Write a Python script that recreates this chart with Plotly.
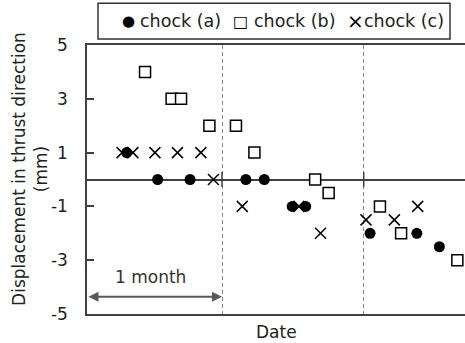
import plotly.graph_objects as go

# x values: days from start of observation window
a_x = [8.8, 15.7, 22.9, 35.3, 39.4, 45.6, 48.6, 62.9, 73.3, 78.3]
a_y = [1, 0, 0, 0, 0, -1, -1, -2, -2, -2.5]

b_x = [12.9, 18.8, 20.9, 27.2, 33.1, 37.2, 50.7, 53.7, 65.1, 69.8, 82.3]
b_y = [4, 3, 3, 2, 2, 1, 0, -0.5, -1, -2, -3]

c_x = [7.8, 10.2, 15.1, 20.1, 25.3, 28.1, 34.5, 47.1, 51.9, 62.0, 68.3, 73.5]
c_y = [1, 1, 1, 1, 1, 0, -1, -1, -2, -1.5, -1.5, -1]

series_names = ["chock (a)", "chock (b)", "chock (c)"]
legend_glyphs = ["●", "□", "×"]
month_marks = [30, 61.5]
y_ticks = [-5, -3, -1, 1, 3, 5]
x_range = [0, 84]
y_range = [-5, 5]

FONT = "DejaVu Sans"
DARK = "#404040"
TXT = "#222"

fig = go.Figure()
fig.add_trace(go.Scatter(x=c_x, y=c_y, mode="markers", name=series_names[2], showlegend=False,
                         marker=dict(symbol="x-thin", size=11, color="black",
                                     line=dict(width=1.5, color="black"))))
fig.add_trace(go.Scatter(x=b_x, y=b_y, mode="markers", name=series_names[1], showlegend=False,
                         marker=dict(symbol="square", size=11, color="white",
                                     line=dict(width=1.5, color="black"))))
fig.add_trace(go.Scatter(x=a_x, y=a_y, mode="markers", name=series_names[0], showlegend=False,
                         marker=dict(symbol="circle", size=11, color="black",
                                     line=dict(width=0))))

# crossing tick marks on the zero line
for v in month_marks:
    fig.add_shape(type="line", xref="x", yref="y", x0=v, x1=v, y0=-0.28, y1=0.28,
                  line=dict(color=DARK, width=1.5))

# 1 month arrow
fig.add_annotation(x=month_marks[0], y=-4.36, ax=0, ay=-4.36, xref="x", yref="y",
                   axref="x", ayref="y", text="", showarrow=True,
                   arrowhead=2, startarrowhead=2, arrowside="end+start",
                   arrowsize=1, arrowwidth=2, arrowcolor="#595959")
fig.add_annotation(x=month_marks[0] / 2 - 0.8, y=-3.62, xref="x", yref="y",
                   text="1 month", showarrow=False,
                   font=dict(family=FONT, size=17, color="#333"))

# axis titles
fig.add_annotation(x=-0.151, y=0.539, xref="paper", yref="paper",
                   text="Displacement in thrust direction<br>(mm)", textangle=-90,
                   showarrow=False, xanchor="center", yanchor="middle",
                   font=dict(family=FONT, size=17, color=TXT))
fig.add_annotation(x=0.5, y=-0.066, xref="paper", yref="paper", text="Date",
                   showarrow=False, xanchor="center", yanchor="middle",
                   font=dict(family=FONT, size=17, color=TXT))

# legend box (drawn as a framed row above the plot)
fig.add_shape(type="rect", xref="paper", yref="paper", x0=0.0291, x1=0.9603,
              y0=1.0223, y1=1.155, line=dict(color="#333", width=1.5),
              fillcolor="white", layer="above")
glyph_x = [0.1085, 0.4048, 0.7116]
glyph_size = [15, 16, 20]
text_x = [0.1336, 0.4352, 0.7262]
for g, gx, gs, name, tx in zip(legend_glyphs, glyph_x, glyph_size, series_names, text_x):
    fig.add_annotation(x=gx, y=1.089, xref="paper", yref="paper", text=g,
                       showarrow=False, xanchor="center", yanchor="middle",
                       font=dict(family=FONT, size=gs, color="black"))
    fig.add_annotation(x=tx, y=1.089, xref="paper", yref="paper", text=name,
                       showarrow=False, xanchor="left", yanchor="middle",
                       font=dict(family=FONT, size=17.5, color=TXT))

fig.update_layout(
    width=465, height=343,
    margin=dict(l=87, r=0, t=45, b=29),
    paper_bgcolor="white", plot_bgcolor="white",
    font=dict(family=FONT, size=17, color=TXT),
    showlegend=False,
    xaxis=dict(range=x_range, showline=True, mirror=True, linecolor=DARK, linewidth=1.5,
               tickvals=month_marks, showticklabels=False, ticks="",
               showgrid=True, gridcolor="#888", gridwidth=1.3, griddash="4px,3px",
               zeroline=False),
    yaxis=dict(range=y_range, showline=True, linecolor=DARK, linewidth=1.5,
               tickvals=y_ticks, ticktext=[str(v) for v in y_ticks],
               ticks="inside", ticklen=7, tickcolor=DARK, tickwidth=1.5,
               ticklabelstandoff=14, showgrid=False,
               zeroline=True, zerolinecolor=DARK, zerolinewidth=1.5),
)

fig.write_html("out.html")
